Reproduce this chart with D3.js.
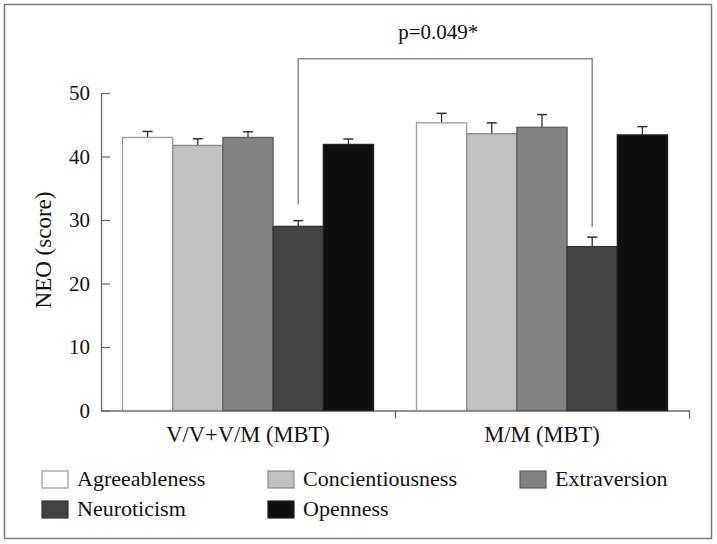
<!DOCTYPE html>
<html>
<head>
<meta charset="utf-8">
<script src="https://cdn.jsdelivr.net/npm/d3@7"></script>
<style>
  body { margin: 0; background: #fff; font-family: "Liberation Serif", serif; }
  svg text { font-family: "Liberation Serif", serif !important; }
</style>
</head>
<body>
<div id="container"></div>
<script>
var WIDTH = 717;
var HEIGHT = 544;

// data
const groups = ['V/V+V/M (MBT)', 'M/M (MBT)'];
const traits = ['Agreeableness', 'Concientiousness', 'Extraversion', 'Neuroticism', 'Openness'];
const means = [
  [43.0, 41.75, 43.0, 29.0, 41.9],
  [45.3, 43.6, 44.6, 25.8, 43.4]
];
const sems = [
  [0.95, 1.05, 0.9, 0.9, 0.85],
  [1.5, 1.7, 2.0, 1.5, 1.3]
];
const yTicks = [0, 10, 20, 30, 40, 50];
const pLabel = 'p=0.049*';
// bracket: top and the two feet, in score units
const bracket = { top: 55.4, left: 32.5, right: 28.9 };

const fills = ['#ffffff', '#c1c1c1', '#828282', '#434343', '#0f0f0f'];
const strokes = ['#9a9a9a', '#8a8a8a', '#5e5e5e', '#333333', '#222222'];

const svg = d3.select('#container')
  .append('svg')
    .attr('width', WIDTH)
    .attr('height', HEIGHT);

// outer frame
svg.append('rect')
  .attr('x', 4.5).attr('y', 4.5)
  .attr('width', 707).attr('height', 534)
  .attr('fill', 'none')
  .attr('stroke', '#7a7a7a')
  .attr('stroke-width', 1.5);

const x0 = d3.scaleBand()
  .domain(groups)
  .range([101, 689])
  .paddingInner(0.146)
  .paddingOuter(0.073);

const x1 = d3.scaleBand()
  .domain(traits)
  .range([0, x0.bandwidth()]);

const y = d3.scaleLinear()
  .domain([0, 50])
  .range([410.5, 93]);

// y axis
const yAxis = svg.append('g')
  .attr('transform', 'translate(101,0)')
  .call(d3.axisLeft(y).tickValues(yTicks).tickSize(-9).tickPadding(11).tickSizeOuter(0));
yAxis.attr('font-family', null).attr('font-size', null);
yAxis.select('.domain').attr('stroke', '#6a6a6a').attr('stroke-width', 1.3);
yAxis.selectAll('.tick line').attr('stroke', '#6a6a6a').attr('stroke-width', 1.3);
yAxis.selectAll('.tick text')
  .style('font-family', '"Liberation Serif"')
  .style('font-size', '21px')
  .attr('fill', '#111');

// x axis: boundary ticks between groups
const xb = d3.scaleLinear().domain([0, groups.length]).range([101, 689]);
const xAxis = svg.append('g')
  .attr('transform', `translate(0,${y(0)})`)
  .call(d3.axisBottom(xb).tickValues([1, 2]).tickSize(8).tickSizeOuter(0).tickFormat(''));
xAxis.select('.domain').attr('stroke', '#6a6a6a').attr('stroke-width', 1.3);
xAxis.selectAll('.tick line').attr('stroke', '#6a6a6a').attr('stroke-width', 1.3);

svg.selectAll('.cat-label')
  .data(groups)
  .enter()
  .append('text')
    .attr('class', 'cat-label')
    .attr('x', g => x0(g) + x0.bandwidth() / 2)
    .attr('y', 442)
    .attr('text-anchor', 'middle')
    .attr('fill', '#111')
    .style('font-family', '"Liberation Serif"')
    .style('font-size', '22.5px')
    .text(g => g);

// bars
const rows = [];
groups.forEach((g, gi) => {
  traits.forEach((t, ti) => {
    rows.push({ group: g, trait: t, ti: ti, value: means[gi][ti], err: sems[gi][ti] });
  });
});

const bars = svg.selectAll('.bar')
  .data(rows)
  .enter()
  .append('g')
    .attr('class', 'bar')
    .attr('transform', d => `translate(${x0(d.group) + x1(d.trait)},0)`);

// error bars (upper only)
bars.append('line')
  .attr('x1', x1.bandwidth() / 2)
  .attr('x2', x1.bandwidth() / 2)
  .attr('y1', d => y(d.value))
  .attr('y2', d => y(d.value + d.err))
  .attr('stroke', '#333')
  .attr('stroke-width', 1.3);
bars.append('line')
  .attr('x1', x1.bandwidth() / 2 - 5)
  .attr('x2', x1.bandwidth() / 2 + 5)
  .attr('y1', d => y(d.value + d.err))
  .attr('y2', d => y(d.value + d.err))
  .attr('stroke', '#333')
  .attr('stroke-width', 1.5);

bars.append('rect')
  .attr('x', 0)
  .attr('y', d => y(d.value))
  .attr('width', x1.bandwidth())
  .attr('height', d => y(0) - y(d.value))
  .attr('fill', d => fills[d.ti])
  .attr('stroke', d => strokes[d.ti])
  .attr('stroke-width', 1.3);

// significance bracket between the two Neuroticism bars
const bx1 = x0(groups[0]) + x1('Neuroticism') + x1.bandwidth() / 2;
const bx2 = x0(groups[1]) + x1('Neuroticism') + x1.bandwidth() / 2;
svg.append('path')
  .attr('d', `M${bx1},${y(bracket.left)} V${y(bracket.top)} H${bx2} V${y(bracket.right)}`)
  .attr('fill', 'none')
  .attr('stroke', '#8a8a8a')
  .attr('stroke-width', 1.5);
svg.append('text')
  .attr('x', (bx1 + bx2) / 2 - 7)
  .attr('y', 39)
  .attr('text-anchor', 'middle')
  .attr('fill', '#111')
  .style('font-family', '"Liberation Serif"')
  .style('font-size', '21px')
  .text(pLabel);

// y label
svg.append('text')
  .attr('transform', 'translate(51,250) rotate(-90)')
  .attr('text-anchor', 'middle')
  .attr('fill', '#111')
  .style('font-family', '"Liberation Serif"')
  .style('font-size', '23px')
  .text('NEO (score)');

// legend
const legendX = [42, 268, 520];
const legend = svg.selectAll('.legend')
  .data(traits)
  .enter()
  .append('g')
    .attr('class', 'legend')
    .attr('transform', (t, i) => `translate(${legendX[i % 3]},${471 + Math.floor(i / 3) * 30})`);
legend.append('rect')
  .attr('width', 26)
  .attr('height', 17)
  .attr('fill', (t, i) => fills[i])
  .attr('stroke', (t, i) => strokes[i])
  .attr('stroke-width', 1.2);
legend.append('text')
  .attr('x', 35)
  .attr('y', 15)
  .attr('fill', '#111')
  .style('font-family', '"Liberation Serif"')
  .style('font-size', '22px')
  .text(t => t);
</script>
</body>
</html>
